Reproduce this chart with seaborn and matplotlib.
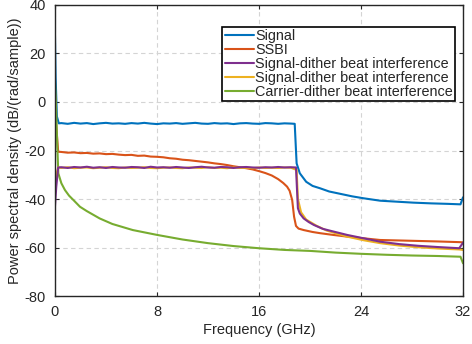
import numpy as np
import pandas as pd
import matplotlib
matplotlib.use("Agg")
import matplotlib.pyplot as plt
import seaborn as sns

# Frequency grid for the flat parts (GHz)
flat_f = [0.5, 1.0, 1.5, 2.0, 2.5, 3.0, 3.5, 4.0, 4.5, 5.0, 5.5, 6.0, 6.5, 7.0, 7.5,
          8.0, 8.5, 9.0, 9.5, 10.0, 10.5, 11.0, 11.5, 12.0, 12.5, 13.0, 13.5, 14.0,
          14.5, 15.0, 15.5, 16.0, 16.5, 17.0, 17.5, 18.0, 18.5]

# Signal (blue)
sig_f = [0.0, 0.05, 0.15, 0.3] + flat_f + [18.8, 18.9, 18.95, 19.2, 19.7, 20.2, 20.8, 21.5,
                                            22.4, 23.3, 24.2, 25.5, 26.8, 28.1, 29.5, 30.8, 31.8, 32.0]
sig_db = [27.0, 10.0, -6.0, -8.8,
          -8.7, -9.0, -8.6, -8.9, -8.7, -9.1, -8.8, -8.6, -8.9, -8.8, -9.0, -8.7, -8.9, -8.6, -8.9,
          -9.1, -8.8, -8.9, -8.7, -9.0, -8.8, -8.6, -8.9, -9.0, -8.7, -8.9, -8.8, -9.1, -8.8, -8.7,
          -8.9, -9.0, -8.7, -8.8, -9.0, -8.8, -8.9,
          -9.0, -20.0, -25.3, -29.4, -32.9, -34.6, -35.6, -36.9,
          -37.9, -38.9, -39.7, -40.7, -41.1, -41.5, -41.8, -42.0, -42.2, -39.3]

# SSBI (orange)
ssbi_f = [0.0, 0.1, 0.25] + flat_f[:-2] + [17.9, 18.2, 18.4, 18.6, 18.75, 18.9, 19.1, 19.5,
                                          20.2, 20.8, 21.8, 22.9, 24.2, 25.5, 27.0, 28.5, 30.0, 31.8, 32.0]
ssbi_db = [4.0, -10.0, -20.5,
           -20.6, -20.9, -20.8, -21.1, -21.0, -21.3, -21.2, -21.5, -21.4, -21.7, -21.9, -21.8,
           -22.2, -22.1, -22.5, -22.6, -22.8, -23.2, -23.4, -23.8, -24.0, -24.3, -24.6, -24.9,
           -25.3, -25.6, -26.0, -26.5, -26.9, -27.3, -27.8, -28.5, -29.3, -30.3, -31.8,
           -33.4, -34.9, -36.6, -40.4, -47.3, -51.1, -52.2, -52.8,
           -53.6, -54.1, -54.8, -55.5, -56.2, -56.9, -57.1, -57.3, -57.5, -57.8, -57.9]

# Signal-dither beat interference (purple)
sd1_f = [0.0, 0.1, 0.25] + flat_f + [18.9, 18.97, 19.05, 19.2, 19.5, 19.9, 20.3, 21.0, 21.6,
                                      22.9, 24.2, 25.5, 27.0, 28.5, 30.0, 31.7, 32.0]
sd1_db = [-43.0, -35.0, -27.0,
          -26.9, -27.2, -26.8, -27.0, -26.7, -27.1, -26.9, -27.2, -26.8, -27.0, -27.1, -26.8,
          -26.9, -27.2, -26.7, -27.0, -26.9, -27.1, -26.8, -27.0, -27.2, -26.9, -26.7, -27.0,
          -27.1, -26.8, -26.9, -27.2, -26.9, -26.8, -27.0, -27.1, -26.9, -27.0, -26.8, -27.0,
          -26.9,
          -27.0, -35.0, -43.8, -46.0, -48.0, -49.5, -50.7, -52.3, -53.1,
          -54.8, -56.2, -57.6, -58.6, -59.3, -59.8, -60.3, -58.0]

# Signal-dither beat interference (yellow)
sd2_f = [0.0, 0.1, 0.25] + flat_f + [18.95, 19.05, 19.3, 19.7, 20.5, 21.3, 22.9, 24.2, 25.5,
                                      27.0, 28.5, 30.0, 31.7, 32.0]
sd2_db = [-34.0, -30.0, -27.0,
          -27.2, -26.9, -27.3, -27.1, -27.0, -27.3, -27.1, -26.9, -27.2, -27.3, -27.0, -27.2,
          -27.1, -26.9, -27.2, -27.3, -27.1, -27.0, -27.2, -27.3, -27.0, -27.1, -27.2, -26.9,
          -27.2, -27.1, -27.3, -27.0, -27.2, -27.1, -27.3, -27.0, -27.2, -27.1, -27.2, -27.0,
          -27.1,
          -28.0, -40.0, -45.5, -48.5, -51.0, -53.0, -55.5, -57.0, -58.2,
          -59.2, -59.9, -60.4, -60.8, -61.0]

# Carrier-dither beat interference (green)
cd_f = [0.0, 0.08, 0.18, 0.26, 0.5, 0.78, 1.1, 1.44, 1.96, 2.5, 3.5, 4.5, 6.1, 8.0, 10.0,
        12.0, 14.0, 16.0, 18.0, 20.0, 22.0, 24.0, 26.0, 28.0, 30.0, 31.8, 32.0]
cd_db = [8.4, -2.0, -18.0, -29.4, -33.5, -36.3, -38.6, -40.4, -43.2, -45.0, -48.0, -50.3,
         -52.8, -54.8, -56.7, -58.2, -59.4, -60.3, -61.0, -61.4, -62.1, -62.6, -63.0, -63.3,
         -63.5, -63.8, -66.5]

sns.set_style("ticks")
plt.rcParams['font.family'] = ['Liberation Sans', 'DejaVu Sans']
plt.rcParams['axes.unicode_minus'] = False
plt.rcParams['xtick.direction'] = 'in'
plt.rcParams['ytick.direction'] = 'in'
plt.rcParams['xtick.top'] = True
plt.rcParams['ytick.right'] = True

fig = plt.figure(figsize=(4.72, 3.44), dpi=100)
ax = fig.add_axes([0.1165, 0.1395, 0.8645, 0.846])

series = [
    (sig_f, sig_db, '#0072BD', 'Signal', 2.0),
    (ssbi_f, ssbi_db, '#D95319', 'SSBI', 2.0),
    (sd1_f, sd1_db, '#7E2F8E', 'Signal-dither beat interference', 2.2),
    (sd2_f, sd2_db, '#EDB120', 'Signal-dither beat interference', 2.1),
    (cd_f, cd_db, '#77AC30', 'Carrier-dither beat interference', 2.0),
]
for f, db, c, lab, z in series:
    sns.lineplot(x=f, y=db, color=c, label=lab, lw=1.5, ax=ax, zorder=z,
                 estimator=None, sort=False)

ax.set_xlim(0, 32)
ax.set_ylim(-80, 40)
ax.set_xticks([0, 8, 16, 24, 32])
ax.set_yticks([-80, -60, -40, -20, 0, 20, 40])
ax.grid(True, ls=(0, (4, 3)), color='#d4d4d4', lw=0.8)
ax.set_axisbelow(True)
for s in ax.spines.values():
    s.set_color('#262626')
    s.set_linewidth(1.0)
ax.tick_params(colors='#262626', labelsize=10.5, length=3, width=0.8, pad=6.5)
ax.set_xlabel('Frequency (GHz)', fontsize=10.5, color='#262626', labelpad=3)
ax.set_ylabel('Power spectral density (dB/(rad/sample))', fontsize=10.5, color='#262626',
              labelpad=2)

leg = ax.legend(loc='upper right', bbox_to_anchor=(0.98, 0.925), fontsize=10.4,
                frameon=True, fancybox=False, framealpha=1, edgecolor='black',
                labelspacing=0.0, handlelength=2.0, handletextpad=0.1,
                borderpad=0.15, borderaxespad=0)
leg.get_frame().set_linewidth(1.2)

fig.savefig('out.png', dpi=100)
